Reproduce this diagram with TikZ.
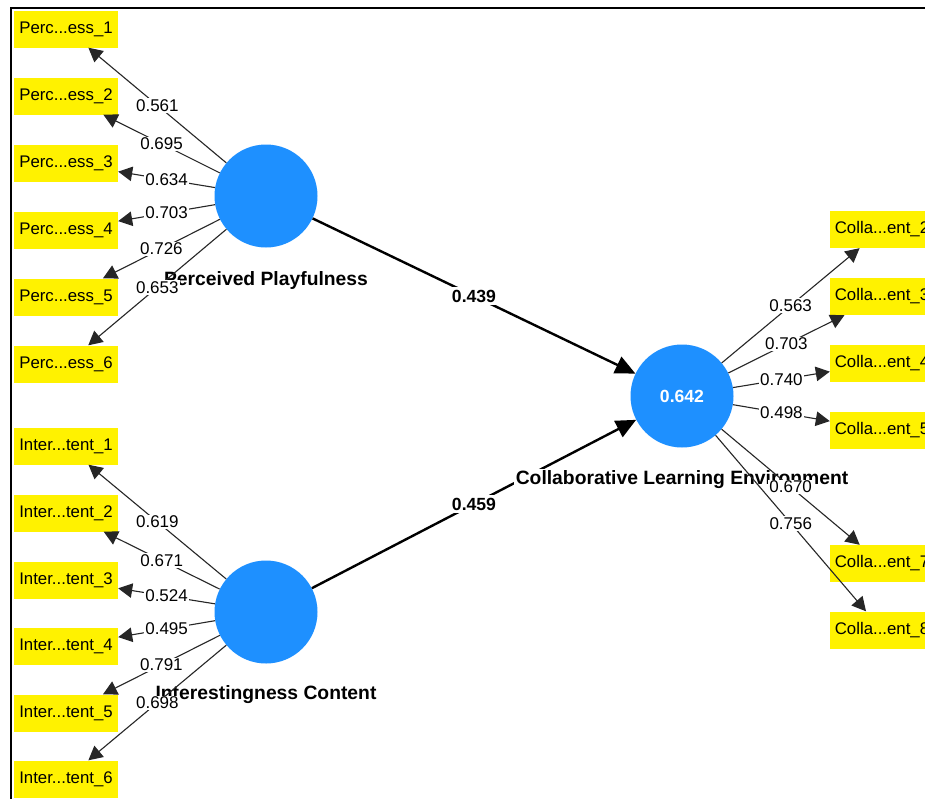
\documentclass[tikz,border=0pt]{standalone}
\usepackage{fontspec}
\setmainfont{Liberation Sans}
\usetikzlibrary{arrows.meta}
\definecolor{lvblue}{RGB}{30,144,255}
\begin{document}
\begin{tikzpicture}[x=1pt,y=-1pt,
  indicator/.style={fill=yellow, minimum width=104pt, minimum height=37pt, inner sep=0pt,
    font=\fontsize{16.8}{18}\selectfont},
  latent/.style={circle, fill=lvblue, minimum size=103pt, inner sep=0pt,
    text=white, font=\bfseries\fontsize{17.6}{20}\selectfont},
  lvname/.style={fill=white, inner sep=1.5pt, anchor=base,
    font=\bfseries\fontsize{19.3}{22}\selectfont},
  loading/.style={draw=black!85, line width=1.1pt, -{Triangle[length=14pt,width=14.5pt]}},
  ldval/.style={fill=white, inner sep=1.2pt, font=\fontsize{17}{19}\selectfont},
  pathc/.style={draw=black, line width=2.4pt, -{Triangle[length=20pt,width=18pt]}},
  pcval/.style={fill=white, inner sep=3pt, font=\bfseries\fontsize{17.6}{20}\selectfont},
]
\clip (0,0) rectangle (925,798);
\fill[white] (0,0) rectangle (925,798);

% frame
\draw[line width=2.3pt] (11,800) -- (11,8) -- (927,8);

% latent variables
\node[latent] (pp)  at (266,196) {};
\node[latent] (ic)  at (266,612) {};
\node[latent] (cle) at (682,396) {0.642};

% indicators
\foreach \i/\y in {1/29,2/96,3/163,4/230,5/297,6/364}
  \node[indicator] (p\i) at (66,\y) {Perc...ess\_\i};
\foreach \i/\y in {1/446,2/513,3/580,4/646,5/713,6/779}
  \node[indicator] (n\i) at (66,\y) {Inter...tent\_\i};
\foreach \i/\y in {2/229.5,3/296.5,4/363,5/430,7/563.5,8/630}
  \node[indicator] (c\i) at (882,\y) {Colla...ent\_\i};

% structural paths
\draw[pathc] (pp) -- node[pcval] {0.439} (cle);
\draw[pathc] (ic) -- node[pcval] {0.459} (cle);

% construct names
\node[lvname] (ppname)  at (266,285) {Perceived Playfulness};
\node[lvname] (icname)  at (266,699) {Interestingness Content};
\node[lvname] (clename) at (682,484) {Collaborative Learning Environment};

% outer loadings
\foreach \i/\v in {1/0.561,2/0.695,3/0.634,4/0.703,5/0.726,6/0.653}
  \draw[loading] (pp) -- node[ldval] {\v} (p\i);
\foreach \i/\v in {1/0.619,2/0.671,3/0.524,4/0.495,5/0.791,6/0.698}
  \draw[loading] (ic) -- node[ldval] {\v} (n\i);
\foreach \i/\v in {2/0.563,3/0.703,4/0.740,5/0.498,7/0.670,8/0.756}
  \draw[loading] (cle) -- node[ldval] {\v} (c\i);
\end{tikzpicture}
\end{document}
